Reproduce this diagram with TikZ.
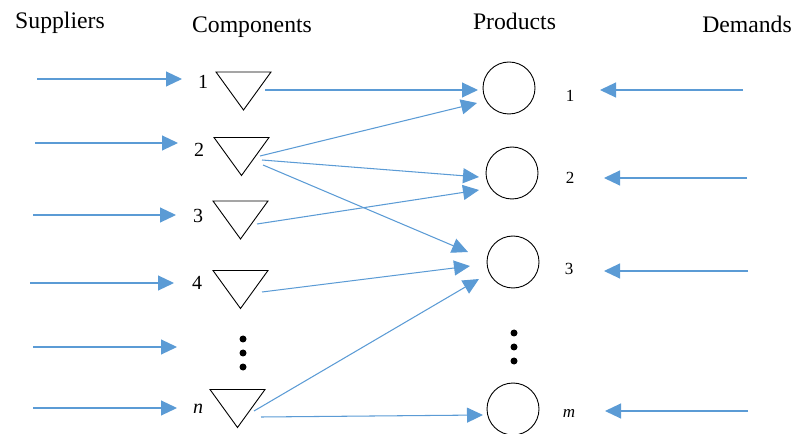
\documentclass[tikz,border=0pt]{standalone}
\usepackage{fontspec}
\setmainfont{Liberation Serif}
\usetikzlibrary{arrows.meta,calc}
\definecolor{flowblue}{RGB}{91,155,213}
\tikzset{
  flow/.style={draw=flowblue, line width=1.1bp, -{Triangle[length=16bp,width=15bp]}},
  link/.style={draw=flowblue, line width=1.05bp, -{Triangle[length=16bp,width=15bp]}},
  header/.style={anchor=base, inner sep=0, font=\fontsize{23.7bp}{26bp}\selectfont},
  llab/.style={anchor=base, inner sep=0, font=\fontsize{20bp}{22bp}\selectfont},
  rlab/.style={anchor=base, inner sep=0, font=\fontsize{17bp}{19bp}\selectfont},
  tribox/.style={minimum width=55bp, minimum height=38bp, inner sep=0, outer sep=0},
  prod/.style={circle, draw, line width=0.9bp, minimum size=52bp, inner sep=0},
  dotn/.style={circle, fill, minimum size=7bp, inner sep=0},
}
\begin{document}
\begin{tikzpicture}[x=1bp,y=-1bp]
\useasboundingbox (0,0) rectangle (795,434);
% headers
\node[header] (hs) at (60,29) {Suppliers};
\node[header] (hc) at (252,33) {Components};
\node[header] (hp) at (514.5,30) {Products};
\node[header] (hd) at (747,33) {Demands};
% component triangles
\node[tribox] (t1) at (243.5,91) {};
\node[tribox] (t2) at (241.5,156.5) {};
\node[tribox] (t3) at (240.5,220) {};
\node[tribox] (t4) at (240.5,289.5) {};
\node[tribox] (tn) at (237.5,408.5) {};
\foreach \t in {t1,t2,t3,t4,tn}
  \draw[line width=0.9bp, line join=miter] (\t.north west) -- (\t.north east) -- (\t.south) -- cycle;
% left labels
\node[llab] (l1) at (203,89) {1};
\node[llab] (l2) at (199,157) {2};
\node[llab] (l3) at (198,223) {3};
\node[llab] (l4) at (197,290) {4};
\node[llab] (ln) at (198,413) {\itshape n};
% left dots
\node[dotn] (ld1) at (243,339) {};
\node[dotn] (ld2) at (243,353) {};
\node[dotn] (ld3) at (243,367) {};
% products
\node[prod] (p1) at (509,88) {};
\node[prod] (p2) at (512,173) {};
\node[prod] (p3) at (513,262) {};
\node[prod] (pm) at (513,409) {};
% right labels
\node[rlab] (r1) at (570,102) {1};
\node[rlab] (r2) at (570,184) {2};
\node[rlab] (r3) at (569,275) {3};
\node[rlab] (rm) at (569,417) {\itshape m};
% right dots
\node[dotn] (rd1) at (514,333) {};
\node[dotn] (rd2) at (514,347) {};
\node[dotn] (rd3) at (514,361) {};
% supplier arrows
\coordinate (s1) at (37,79);   \coordinate (e1) at (182,79);
\coordinate (s2) at (35,143);  \coordinate (e2) at (178,143);
\coordinate (s3) at (33,215);  \coordinate (e3) at (176,215);
\coordinate (s4) at (30,283);  \coordinate (e4) at (174,283);
\coordinate (s5) at (33,347);  \coordinate (e5) at (177,347);
\coordinate (s6) at (33,408);  \coordinate (e6) at (177,408);
\foreach \i in {1,...,6} \draw[flow] (s\i) -- (e\i);
% demand arrows
\coordinate (d1) at (743,90);  \coordinate (f1) at (600,90);
\coordinate (d2) at (747,178); \coordinate (f2) at (604,178);
\coordinate (d3) at (748,271); \coordinate (f3) at (604,271);
\coordinate (d4) at (748,411); \coordinate (f4) at (605,411);
\foreach \i in {1,...,4} \draw[flow] (d\i) -- (f\i);
% component -> product links
\draw[link] ($(t1)+(21.5,-1)$) -- ($(p1)+(-31,2)$);
\draw[link] ($(t2)+(18.5,-0.5)$) -- ($(p1)+(-32,15)$);
\draw[link] ($(t2)+(20.5,3.5)$) -- ($(p2)+(-33,4)$);
\draw[link] ($(t2)+(21.5,8.5)$) -- ($(p3)+(-45,-10)$);
\draw[link] ($(t3)+(16.5,4)$) -- ($(p2)+(-33,17)$);
\draw[link] ($(t4)+(21.5,2.5)$) -- ($(p3)+(-43,4)$);
\draw[link] ($(tn)+(16.5,2.5)$) -- ($(p3)+(-34,17)$);
\draw[link] ($(tn)+(23.5,8.5)$) -- ($(pm)+(-30,6)$);
\end{tikzpicture}
\end{document}
